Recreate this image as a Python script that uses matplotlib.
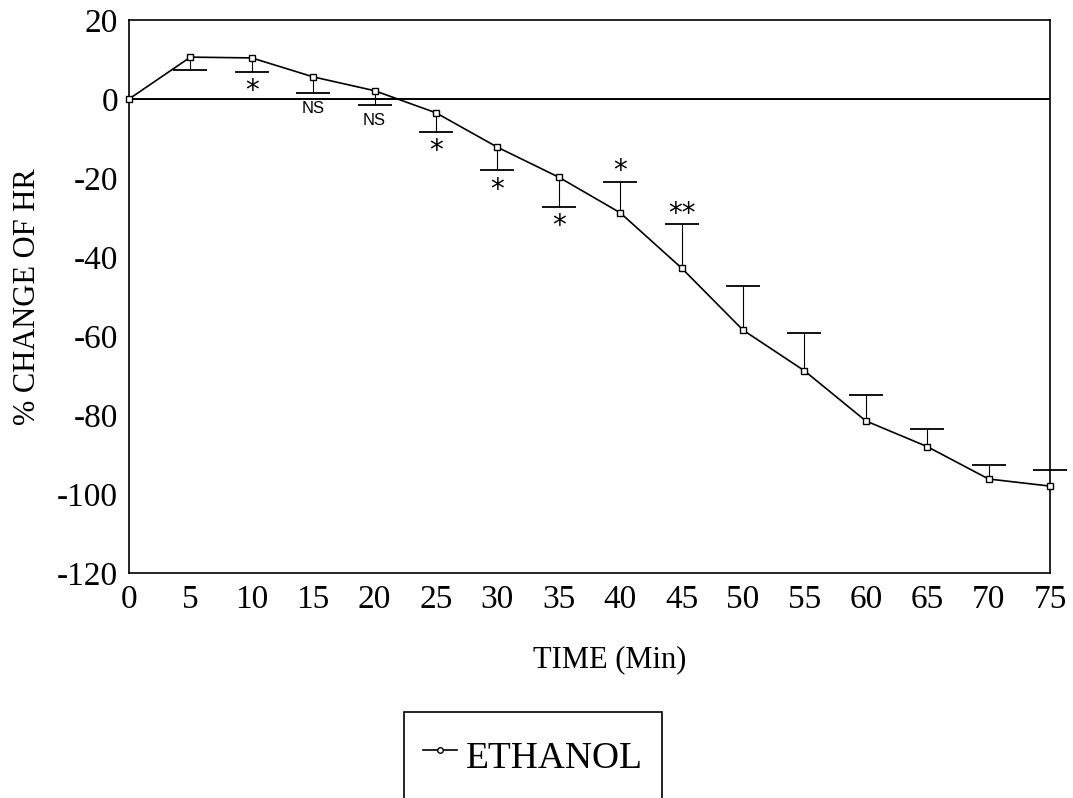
#!/usr/bin/env python3

import numpy as np
import matplotlib
matplotlib.use('Agg')
import matplotlib.pyplot as plt
from matplotlib.lines import Line2D

plt.rcParams['axes.unicode_minus'] = False

# Time course of heart rate change after ethanol
time_min = [0, 5, 10, 15, 20, 25, 30, 35, 40, 45, 50, 55, 60, 65, 70, 75]
pct_change = [0.0, 10.6, 10.4, 5.6, 2.1, -3.5, -12.2, -19.8, -28.8, -42.8,
              -58.5, -68.8, -81.5, -88.0, -96.2, -98.0]
sd = [0.0, 3.3, 3.5, 4.1, 3.6, 4.8, 5.8, 7.5, 7.9, 11.1,
      11.2, 9.6, 6.6, 4.5, 3.5, 4.1]
# -1: error bar drawn below the mean, +1: above
bar_side = [0, -1, -1, -1, -1, -1, -1, -1, 1, 1, 1, 1, 1, 1, 1, 1]
# significance marks placed beyond the cap
sig_marks = ['', '', '*', 'NS', 'NS', '*', '*', '*', '*', '**',
             '', '', '', '', '', '']

serif = 'Liberation Serif'
sans = 'Liberation Sans'

fig = plt.figure(figsize=(10.73, 7.98), dpi=100)
ax = fig.add_axes([129 / 1073, 1 - 573 / 798, 921 / 1073, 553 / 798])

t = np.array(time_min)
m = np.array(pct_change)
cap = m + np.array(bar_side) * np.array(sd)

ax.axhline(0, color='black', lw=1.4, zorder=1)

# one-sided error bars
has_bar = np.array(bar_side) != 0
ax.vlines(t[has_bar], m[has_bar], cap[has_bar], color='black', lw=0.8)
ax.plot(t[has_bar], cap[has_bar], linestyle='none', marker='_',
        markersize=25, markeredgewidth=1.3, color='black', clip_on=False)

ax.plot(t, m, '-s', color='black', lw=1.2, markersize=5,
        markerfacecolor='white', markeredgewidth=1.0, zorder=3,
        clip_on=False, label='ETHANOL')

for x, c, side, mark in zip(t, cap, bar_side, sig_marks):
    if not mark:
        continue
    if mark == 'NS':
        dy = 11 if side > 0 else -11
        ax.annotate(mark, (x, c), xytext=(0, dy), textcoords='offset points',
                    ha='center', va='center', fontsize=12, family=sans)
    else:
        dy = 7.5 if side > 0 else -14
        ax.annotate(mark, (x, c), xytext=(0, dy), textcoords='offset points',
                    ha='center', va='center', fontsize=20, family='DejaVu Sans')

ax.set_xlim(0, 75)
ax.set_ylim(-120, 20)
ax.set_xticks(range(0, 80, 5))
ax.set_yticks(range(-120, 40, 20))
ax.tick_params(length=0, labelsize=24, pad=8)
for lab in ax.get_xticklabels() + ax.get_yticklabels():
    lab.set_family(serif)

for sp in ax.spines.values():
    sp.set_linewidth(1.2)
    sp.set_color('black')

ax.set_xlabel('TIME (Min)', fontsize=22, family=serif)
ax.xaxis.set_label_coords(0.522, -0.13)
ax.set_ylabel('% CHANGE OF HR', fontsize=22, family=serif)
ax.yaxis.set_label_coords(-0.094, 0.5)

handle = Line2D([], [], color='black', lw=1.2, marker='o', markersize=4,
                markerfacecolor='white', markeredgewidth=1.0)
leg = fig.legend([handle], ['ETHANOL'], loc='upper left',
                 bbox_to_anchor=(404 / 1073, 1 - 712 / 798),
                 borderaxespad=0, fancybox=False, shadow=False,
                 edgecolor='black', framealpha=1, handlelength=0.9,
                 handleheight=1.7, handletextpad=0.25, borderpad=0.5,
                 prop={'family': serif, 'size': 27})
leg.get_frame().set_linewidth(1.2)

fig.savefig('out.png', dpi=100)
